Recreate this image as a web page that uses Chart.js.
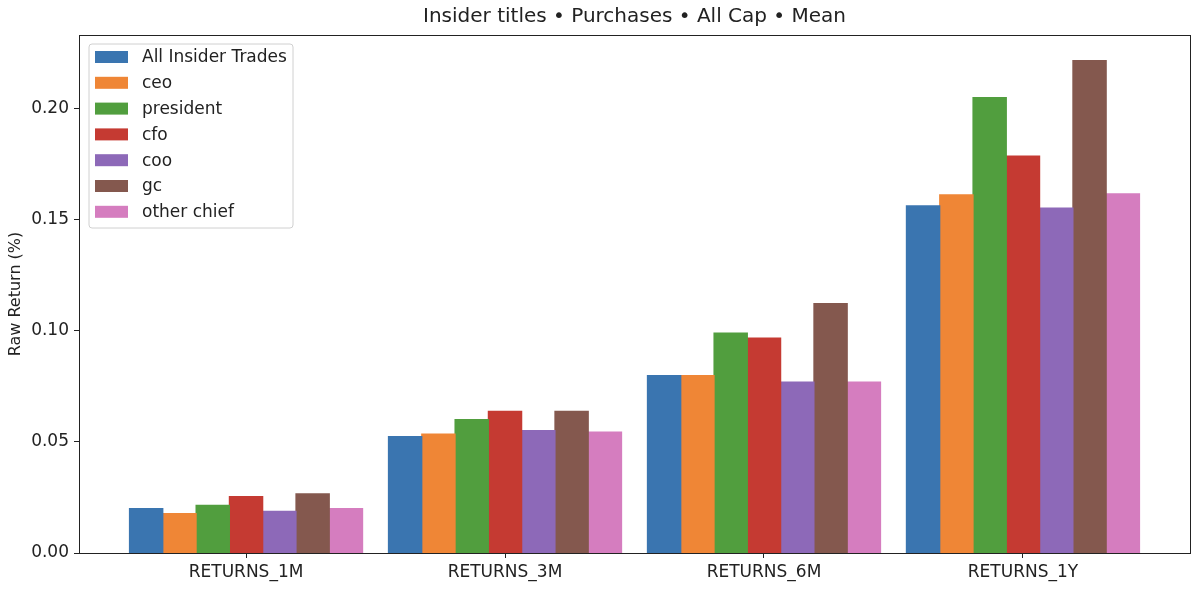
<!DOCTYPE html>
<html>
<head>
<meta charset="utf-8">
<script src="https://cdn.jsdelivr.net/npm/chart.js@4.4.1/dist/chart.umd.min.js"></script>
<style>
  html, body { margin: 0; padding: 0; background: #fff; }
  #wrap { width: 1200px; height: 604px; }
</style>
</head>
<body>
<div id="wrap"><canvas id="chart" width="1200" height="604"></canvas></div>
<script>
const chartTitle = 'Insider titles \u2022 Purchases \u2022 All Cap \u2022 Mean';
const categories = ['RETURNS_1M', 'RETURNS_3M', 'RETURNS_6M', 'RETURNS_1Y'];
const seriesNames = ['All Insider Trades', 'ceo', 'president', 'cfo', 'coo', 'gc', 'other chief'];
const seriesColors = ['#3a75b0', '#ef8636', '#519e3e', '#c53a32', '#8d69b8', '#84584e', '#d57dbf'];

const allTrades = [0.0200, 0.0524, 0.0799, 0.1563];
const ceo = [0.0177, 0.0535, 0.0799, 0.1613];
const president = [0.0215, 0.0601, 0.0990, 0.2051];
const cfo = [0.0254, 0.0638, 0.0968, 0.1788];
const coo = [0.0188, 0.0551, 0.0770, 0.1553];
const gc = [0.0266, 0.0638, 0.1123, 0.2218];
const otherChief = [0.0200, 0.0545, 0.0770, 0.1617];

const yTicks = [0, 0.05, 0.10, 0.15, 0.20];

const seriesValues = [allTrades, ceo, president, cfo, coo, gc, otherChief];
const FONT = "'DejaVu Sans', sans-serif";

// title centred over the plot area, legend inside the plot (upper left), frame box
const decorations = {
  id: 'decorations',
  afterDraw(chart) {
    const ctx = chart.ctx;
    const a = chart.chartArea;
    ctx.save();
    ctx.fillStyle = '#222';
    ctx.font = '20px ' + FONT;
    ctx.textAlign = 'center';
    ctx.textBaseline = 'middle';
    ctx.fillText(chartTitle, (a.left + a.right) / 2, 17);

    const x0 = a.left + 10, y0 = a.top + 9, w = 204, h = 184;
    ctx.beginPath();
    ctx.roundRect(x0, y0, w, h, 3);
    ctx.fillStyle = 'rgba(255,255,255,0.8)';
    ctx.fill();
    ctx.strokeStyle = '#d0d0d0';
    ctx.lineWidth = 1;
    ctx.stroke();
    ctx.font = '17px ' + FONT;
    ctx.textAlign = 'left';
    chart.data.datasets.forEach((ds, i) => {
      const cy = y0 + 13 + i * 25.8;
      ctx.fillStyle = ds.backgroundColor;
      ctx.fillRect(x0 + 6, cy - 6, 33, 12);
      ctx.fillStyle = '#222';
      ctx.fillText(ds.label, x0 + 53, cy + 1);
    });

    ctx.strokeStyle = '#222';
    ctx.strokeRect(Math.round(a.left) + 0.5, Math.round(a.top) + 0.5,
      Math.round(a.right - a.left), Math.round(a.bottom - a.top));
    ctx.restore();
  }
};

const datasets = seriesNames.map((name, i) => ({
  label: name,
  data: categories.map((c, j) => ({ x: j, y: seriesValues[i][j] })),
  backgroundColor: seriesColors[i],
  borderWidth: 0,
  inflateAmount: 0.6,
  categoryPercentage: 0.9,
  barPercentage: 1.0
}));

new Chart(document.getElementById('chart'), {
  type: 'bar',
  data: { datasets: datasets },
  options: {
    responsive: false,
    animation: false,
    devicePixelRatio: 1,
    layout: { padding: { left: 0, right: 10, top: 35, bottom: 0 } },
    plugins: {
      legend: { display: false },
      tooltip: { enabled: false },
      title: { display: false }
    },
    scales: {
      x: {
        type: 'linear',
        min: -0.645,
        max: 3.645,
        offset: false,
        afterBuildTicks(axis) {
          axis.ticks = categories.map((c, i) => ({ value: i }));
        },
        afterFit(scale) { scale.height = 51; },
        ticks: {
          color: '#222',
          font: { family: FONT, size: 17 },
          padding: 4,
          maxRotation: 0,
          callback: (v) => categories[v]
        },
        grid: { display: true, offset: false, drawOnChartArea: false, drawTicks: true, tickLength: 5, color: '#222' },
        border: { display: true, color: '#222' }
      },
      y: {
        min: 0,
        max: 0.2333,
        afterBuildTicks(axis) {
          axis.ticks = yTicks.map(v => ({ value: v }));
        },
        afterFit(scale) { scale.width = 79; },
        ticks: {
          color: '#222',
          font: { family: FONT, size: 17 },
          padding: 5,
          callback: (v) => v.toFixed(2)
        },
        grid: { display: true, offset: false, drawOnChartArea: false, drawTicks: true, tickLength: 5, color: '#222' },
        border: { display: true, color: '#222' },
        title: {
          display: true,
          text: 'Raw Return (%)',
          color: '#222',
          font: { family: FONT, size: 16 },
          padding: { top: 6, bottom: 0 }
        }
      }
    }
  },
  plugins: [decorations]
});
</script>
</body>
</html>
